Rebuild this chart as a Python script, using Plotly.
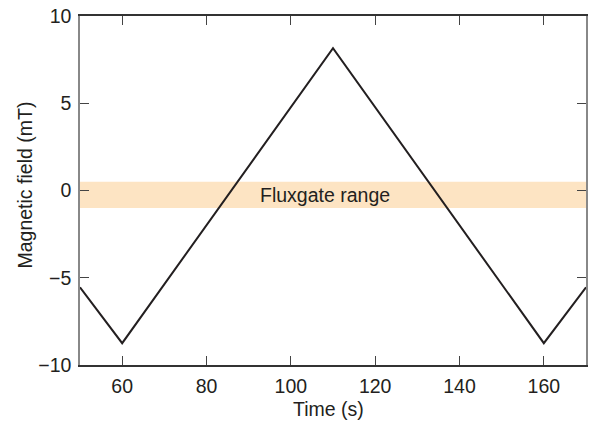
import plotly.graph_objects as go

time_s = [50, 60, 110, 160, 170]
field_mT = [-5.55, -8.75, 8.15, -8.75, -5.55]
band_low, band_high = -1.0, 0.5
band_label = "Fluxgate range"
band_label_x = 108
x_title = "Time (s)"
y_title = "Magnetic field (mT)"
x_ticks = [60, 80, 100, 120, 140, 160]
y_ticks = [-10, -5, 0, 5, 10]
y_ticklabels = ["\u221210", "\u22125", "0", "5", "10"]

font = "Liberation Sans, Arial, sans-serif"
fs = 19.5
txt = "#231f20"
fig = go.Figure()
fig.add_shape(type="rect", xref="paper", yref="y", x0=0, x1=1, y0=band_low, y1=band_high,
              fillcolor="#fde4c3", line_width=0, layer="below")
fig.add_trace(go.Scatter(x=time_s, y=field_mT, mode="lines",
                         line=dict(color="#231f20", width=2), showlegend=False,
                         hoverinfo="skip"))
fig.add_annotation(x=band_label_x, y=(band_low + band_high) / 2, text=band_label,
                   showarrow=False, font=dict(family=font, size=fs, color=txt))
# axis titles
fig.add_annotation(xref="paper", yref="paper", x=0.5, y=0, xanchor="center", yanchor="middle",
                   xshift=-5, yshift=-44, text=x_title, showarrow=False,
                   font=dict(family=font, size=fs, color=txt))
fig.add_annotation(xref="paper", yref="paper", x=0, y=0.5, xanchor="center", yanchor="middle",
                   xshift=-56, yshift=5, textangle=-90, text=y_title, showarrow=False,
                   font=dict(family=font, size=fs, color=txt))

axis_common = dict(ticks="inside", ticklen=9, tickwidth=1, tickcolor="#444",
                   showgrid=False, zeroline=False, mirror="ticks", showline=True,
                   automargin=False,
                   tickfont=dict(family=font, size=fs, color=txt))
fig.update_xaxes(range=[50, 170], tickvals=x_ticks, linecolor="#333", linewidth=1.5,
                 ticklabelstandoff=3, **axis_common)
fig.update_yaxes(range=[-10, 10], tickvals=y_ticks, ticktext=y_ticklabels,
                 linecolor="#888", linewidth=1.5, ticklabelstandoff=3, **axis_common)
fig.update_layout(width=589, height=421, plot_bgcolor="white", paper_bgcolor="white",
                  margin=dict(l=80, r=3, t=16, b=56))
fig.write_html("out.html", config={"displayModeBar": False},
               post_script="document.body.style.margin='0';document.body.style.overflow='hidden';")
